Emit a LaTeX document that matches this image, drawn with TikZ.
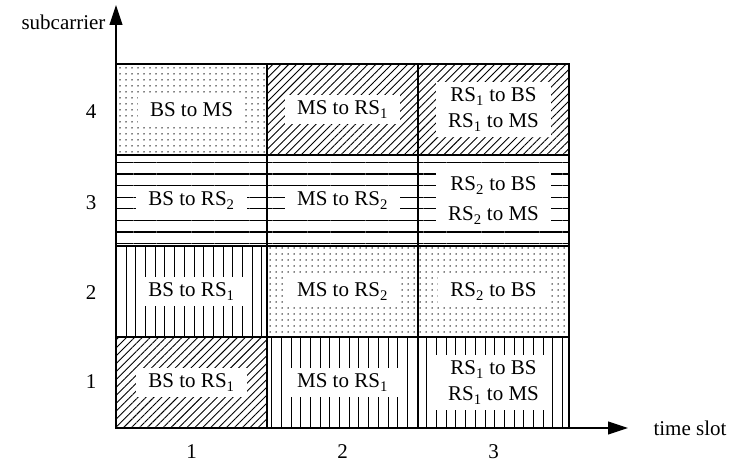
\documentclass[tikz,border=0pt]{standalone}
\usepackage{fontspec}
\setmainfont{Liberation Serif}
\usetikzlibrary{patterns.meta, arrows.meta}

\tikzset{
  cell/.style={draw, line width=1.4pt, minimum width=151pt, minimum height=91pt,
    inner sep=0pt, outer sep=0pt, anchor=south west},
  diag/.style={pattern={Lines[angle=45,distance=5.6pt,line width=0.9pt]}},
  horiz/.style={pattern={Lines[angle=0,distance=11.6pt,line width=1.2pt]}},
  vert/.style={pattern={Lines[angle=90,distance=9.7pt,line width=1pt]}},
  speckle/.style={pattern={Dots[distance=6pt,radius=0.75pt]}, pattern color=black},
  tag/.style={fill=white, inner xsep=12pt, inner ysep=6pt, align=center},
  axis/.style={line width=1.2pt, -{Triangle[length=20pt,width=13pt]}}
}

\begin{document}
\begin{tikzpicture}[x=1pt, y=1pt, font=\fontsize{21}{26}\selectfont]
  \useasboundingbox (0,0) rectangle (732,464);

  % cells, column by column
  \node[cell, diag]    (c11) at (116,36)  {};
  \node[cell, vert]    (c12) at (116,127) {};
  \node[cell, horiz]   (c13) at (116,218) {};
  \node[cell, speckle] (c14) at (116,309) {};
  \node[cell, vert]    (c21) at (267,36)  {};
  \node[cell, speckle] (c22) at (267,127) {};
  \node[cell, horiz]   (c23) at (267,218) {};
  \node[cell, diag]    (c24) at (267,309) {};
  \node[cell, vert]    (c31) at (418,36)  {};
  \node[cell, speckle] (c32) at (418,127) {};
  \node[cell, horiz]   (c33) at (418,218) {};
  \node[cell, diag]    (c34) at (418,309) {};

  % labels
  \node[tag] (t11) at (c11) {BS to RS\textsubscript{1}};
  \node[tag] (t12) at (c12) {BS to RS\textsubscript{1}};
  \node[tag] (t13) at (c13) {BS to RS\textsubscript{2}};
  \node[tag] (t14) at (c14) {BS to MS};
  \node[tag] (t21) at (c21) {MS to RS\textsubscript{1}};
  \node[tag] (t22) at (c22) {MS to RS\textsubscript{2}};
  \node[tag] (t23) at (c23) {MS to RS\textsubscript{2}};
  \node[tag] (t24) at (c24) {MS to RS\textsubscript{1}};
  \node[tag] (t31) at (c31) {RS\textsubscript{1} to BS\\RS\textsubscript{1} to MS};
  \node[tag] (t32) at (c32) {RS\textsubscript{2} to BS};
  \node[tag] (t33) at (c33) {RS\textsubscript{2} to BS\\[4pt]RS\textsubscript{2} to MS};
  \node[tag] (t34) at (c34) {RS\textsubscript{1} to BS\\RS\textsubscript{1} to MS};

  % axes
  \coordinate (origin) at (116,36);
  \coordinate (ytip) at (116,459);
  \coordinate (xtip) at (628,36);
  \draw[axis] (origin) -- (ytip);
  \draw[axis] (origin) -- (xtip);
  \node[anchor=east] (ylabel) at (109,442) {subcarrier};
  \node[anchor=west] (xlabel) at (650,36) {time slot};

  \foreach \n/\y in {1/82, 2/171, 3/261, 4/352}
    \node (row\n) at (91,\y) {\n};
  \foreach \n/\x in {1/191.5, 2/342.5, 3/493.5}
    \node (col\n) at (\x,12) {\n};
\end{tikzpicture}
\end{document}
